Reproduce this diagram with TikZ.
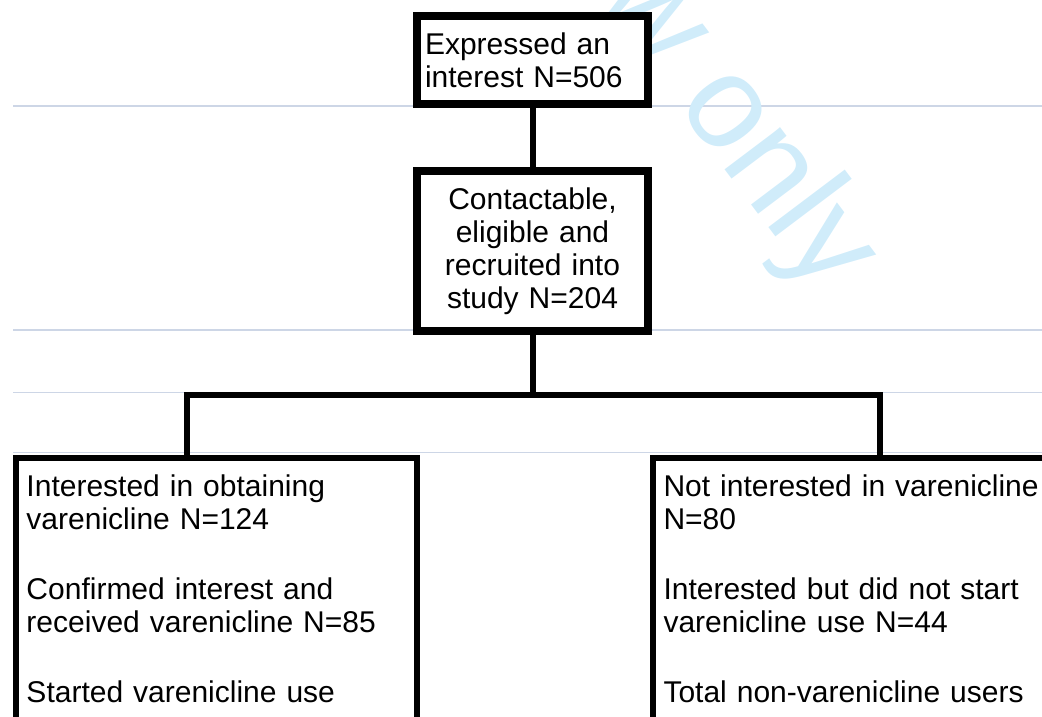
\documentclass[tikz,border=0pt]{standalone}
\usepackage{fontspec}
\setmainfont{Liberation Sans}
\definecolor{rulefill}{RGB}{205, 214, 230}
\definecolor{markfill}{RGB}{208, 236, 250}
\tikzset{
    topbox/.style={draw, fill=white, line width=8pt, inner xsep=8pt,
        text width=215pt, minimum height=#1},
    flowbox/.style={draw, fill=white, line width=6pt, inner xsep=10.5pt,
        inner ysep=16.5pt, anchor=north west, align=left, text depth=300pt},
    joinline/.style={line width=6pt},
    pagerule/.style={draw=rulefill, line width=1.2pt},
}

\begin{document}
\begin{tikzpicture}[x=1pt, y=-1pt, font=\fontsize{30}{33}\selectfont]
    \useasboundingbox (0, 0) rectangle (1042, 717);
    \clip (0, 0) rectangle (1042, 717);
    \foreach \y in {106, 330, 392.5, 452.5}
        \draw[pagerule] (13, \y) -- (1042, \y);
    \node[text=markfill, rotate=-53, anchor=base west, inner sep=0pt,
        font=\fontsize{132}{132}\selectfont] (mark) at (596, -2) {w only};
    \node[topbox=88pt, align=left] (expressed) at (532.5, 60)
        {Expressed an\\interest N=506};
    \node[topbox=160pt, align=center] (recruited) at (532.5, 251)
        {Contactable,\\eligible and\\recruited into\\study N=204};
    \coordinate (split) at (532.5, 395);
    \coordinate (leftdrop) at (187, 455);
    \coordinate (rightdrop) at (880, 455);
    \draw[joinline] (expressed) -- (recruited);
    \draw[joinline] (recruited) -- (split);
    \draw[joinline] (leftdrop) |- (split) -| (rightdrop);
    \node[flowbox, text width=380pt] (users) at (13, 455)
        {Interested in obtaining\\varenicline N=124\\[37pt]Confirmed interest and\\received varenicline N=85\\[37pt]Started varenicline use};
    \node[flowbox, text width=440pt] (nonusers) at (650, 455)
        {Not interested in varenicline\\N=80\\[37pt]Interested but did not start\\varenicline use N=44\\[37pt]Total non-varenicline users};
\end{tikzpicture}
\end{document}
